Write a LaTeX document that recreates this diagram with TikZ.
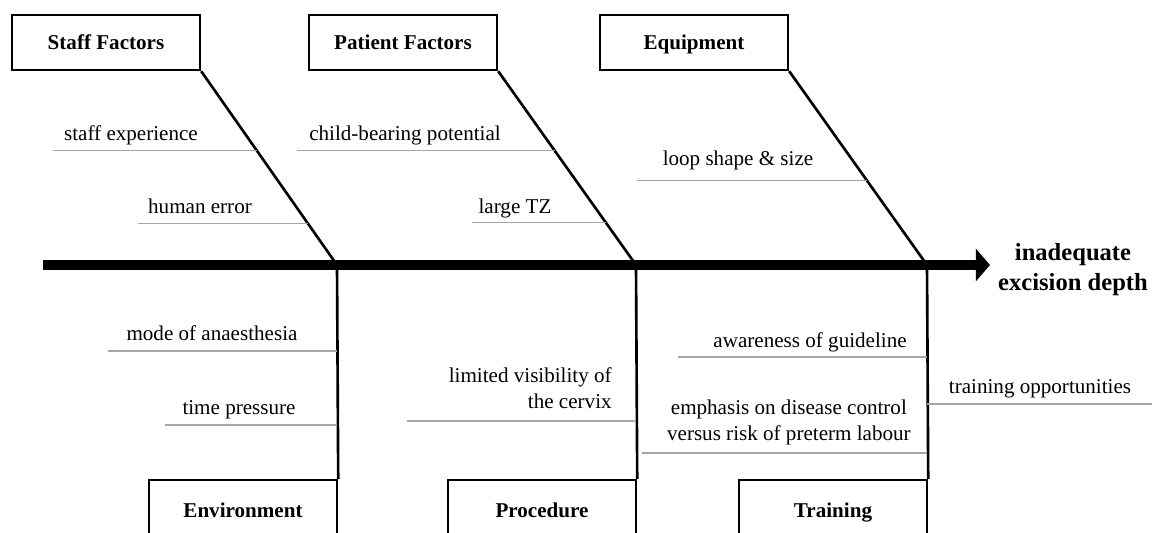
\documentclass[tikz,border=0pt]{standalone}
\usepackage{fontspec}
\setmainfont{Liberation Serif}
\usetikzlibrary{arrows.meta,calc}

\begin{document}
\begin{tikzpicture}[x=0.02cm,y=-0.02cm,
        catbox/.style={draw,line width=1.4pt,inner sep=0pt,minimum width=3.76cm,minimum height=1.1cm,text height=0.8em,text depth=0pt,font=\fontsize{12}{14}\selectfont\bfseries},
        lowbox/.style={catbox,minimum height=1.2cm},
        bone/.style={line width=1.5pt},
        twig/.style={gray!70,line width=0.8pt},
        cause/.style={inner sep=0pt,anchor=base,font=\fontsize{12}{14.5}\selectfont}]

        \useasboundingbox (0,0) rectangle (1152,532);
        \clip (0,0) rectangle (1152,532);

        \node[catbox] (staff) at (106,42.5) {Staff Factors};
        \node[catbox] (patient) at (403,42.5) {Patient Factors};
        \node[catbox] (equip) at (694,42.5) {Equipment};
        \node[lowbox] (env) at (243,510) {Environment};
        \node[lowbox] (proc) at (542,510) {Procedure};
        \node[lowbox] (train) at (833,510) {Training};

        \coordinate (tail) at (43,265);
        \coordinate (head) at (990,265);
        \coordinate (j1) at (337,265);
        \coordinate (j2) at (636,265);
        \coordinate (j3) at (927,265);

        \draw[line width=6pt,-{Triangle[length=8pt,width=18pt]}] (tail) -- (head);
        \node[inner sep=0pt,anchor=base,align=center,font=\fontsize{14}{17}\selectfont\bfseries] (effect) at (1073,290) {inadequate\\excision depth};

        \draw[bone] (staff.south east) -- (j1);
        \draw[bone] (patient.south east) -- (j2);
        \draw[bone] (equip.south east) -- (j3);
        \draw[bone] (j1) -- (env.north east);
        \draw[bone] (j2) -- (proc.north east);
        \draw[bone] (j3) -- (train.north east);

        \draw[twig] ($(staff.south east)!0.41!(j1)$) -- ++(-204,0);
        \draw[twig] ($(staff.south east)!0.785!(j1)$) -- ++(-170,0);
        \draw[twig] ($(patient.south east)!0.41!(j2)$) -- ++(-258,0);
        \draw[twig] ($(patient.south east)!0.78!(j2)$) -- ++(-134,0);
        \draw[twig] ($(equip.south east)!0.564!(j3)$) -- ++(-230,0);
        \draw[twig] (j1 |- 0,351) -- (108,351);
        \draw[twig] (j1 |- 0,425) -- (165,425);
        \draw[twig] (j2 |- 0,421) -- (407,421);
        \draw[twig] (j3 |- 0,357) -- (678,357);
        \draw[twig] (j3 |- 0,453) -- (642,453);
        \draw[twig] (j3 |- 0,404) -- (1152,404);

        \node[cause] (exp) at (131,140) {staff experience};
        \node[cause] (err) at (200,213) {human error};
        \node[cause] (child) at (405,140) {child-bearing potential};
        \node[cause] (tz) at (515,213) {large TZ};
        \node[cause] (loop) at (738,165) {loop shape \& size};
        \node[cause] (anaes) at (212,340) {mode of anaesthesia};
        \node[cause] (time) at (239,414) {time pressure};
        \node[cause,anchor=base east,align=right] (vis) at (612,408) {limited visibility of\\the cervix};
        \node[cause,anchor=base east] (aware) at (907,347) {awareness of guideline};
        \node[cause,anchor=base east,align=center] (emph) at (911,440) {emphasis on disease control\\versus risk of preterm labour};
        \node[cause] (opp) at (1040,393) {training opportunities};

    \end{tikzpicture}
\end{document}
